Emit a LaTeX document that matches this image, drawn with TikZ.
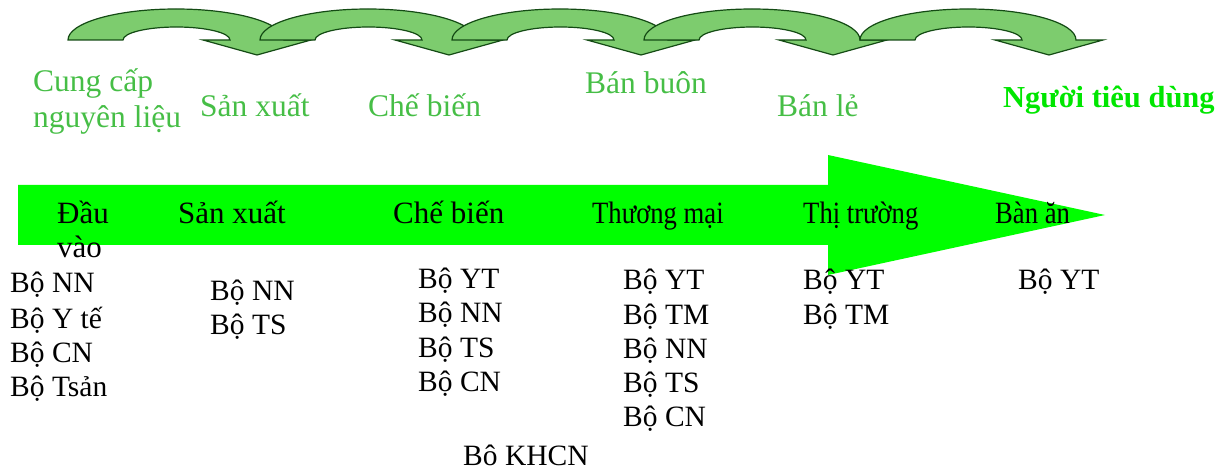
\documentclass[tikz,border=0pt]{standalone}
\usepackage{fontspec}
\setmainfont{Liberation Serif}
\newfontfamily\condfont[FakeStretch=0.86]{Liberation Serif}
\definecolor{arrowfill}{RGB}{125,204,110}
\definecolor{arrowline}{RGB}{20,75,20}
\definecolor{labelgreen}{RGB}{70,190,70}
\definecolor{brightgreen}{RGB}{0,230,0}
\definecolor{mainarrow}{RGB}{0,255,0}
\begin{document}
\begin{tikzpicture}[x=1pt,y=-1pt,
 curved/.style={fill=arrowfill,draw=arrowline,line width=1.2pt,line join=miter},
 glabel/.style={anchor=base west,inner sep=0pt,text=labelgreen,font=\fontsize{31.5}{36}\selectfont},
 alabel/.style={anchor=base west,inner sep=0pt,font=\fontsize{31}{35}\selectfont},
 clabel/.style={anchor=base west,inner sep=0pt,font=\condfont\fontsize{31}{35}\selectfont},
 blabel/.style={anchor=base west,inner sep=0pt,font=\fontsize{29.5}{34}\selectfont}]
\useasboundingbox (0,0) rectangle (1231,470);
% curved arrows
\foreach \s in {0,192,384,576,792} {
 \draw[curved,shift={(\s,0)}] (68,40) arc[start angle=180,end angle=360,x radius=108,y radius=31]
   -- (311,40) -- (257,55) -- (203,40) -- (230,40)
   arc[start angle=0,end angle=-180,x radius=53.5,y radius=13] -- cycle;
}
% main arrow
\fill[mainarrow] (18,185) -- (828,185) -- (828,155) -- (1105,215) -- (828,275) -- (828,245) -- (18,245) -- cycle;
% green labels
\node[glabel] (cung) at (33,92) {Cung cấp};
\node[glabel] (nguyen) at (33,128) {nguyên liệu};
\node[glabel] (gsx) at (200,117) {Sản xuất};
\node[glabel] (gcb) at (368,117) {Chế biến};
\node[glabel] (gbb) at (585,94) {Bán buôn};
\node[glabel] (gbl) at (777,117) {Bán lẻ};
\node[anchor=base west,inner sep=0pt,text=brightgreen,font=\bfseries\fontsize{30.5}{34}\selectfont] (gntd) at (1003,108) {Người tiêu dùng};
% arrow labels
\node[alabel] (dau) at (57,224) {Đầu};
\node[alabel] (vao) at (57,258) {vào};
\node[alabel] (asx) at (178,224) {Sản xuất};
\node[alabel] (acb) at (393,224) {Chế biến};
\node[clabel] (atm) at (592,224) {Thương mại};
\node[clabel] (att) at (803,224) {Thị trường};
\node[clabel] (aba) at (995,224) {Bàn ăn};
% column 1
\node[blabel] (c1a) at (10,293) {Bộ NN};
\node[blabel] (c1b) at (10,328) {Bộ Y tế};
\node[blabel] (c1c) at (10,362) {Bộ CN};
\node[blabel] (c1d) at (10,396) {Bộ Tsản};
% column 2
\node[blabel] (c2a) at (210,300) {Bộ NN};
\node[blabel] (c2b) at (210,334) {Bộ TS};
% column 3
\node[blabel] (c3a) at (418,289) {Bộ YT};
\node[blabel] (c3b) at (418,323) {Bộ NN};
\node[blabel] (c3c) at (418,357) {Bộ TS};
\node[blabel] (c3d) at (418,391) {Bộ CN};
% column 4
\node[blabel] (c4a) at (623,290) {Bộ YT};
\node[blabel] (c4b) at (623,324) {Bộ TM};
\node[blabel] (c4c) at (623,358) {Bộ NN};
\node[blabel] (c4d) at (623,392) {Bộ TS};
\node[blabel] (c4e) at (623,426) {Bộ CN};
% column 5
\node[blabel] (c5a) at (803,290) {Bộ YT};
\node[blabel] (c5b) at (803,324) {Bộ TM};
% column 6
\node[blabel] (c6a) at (1018,290) {Bộ YT};
% bottom
\node[blabel] (khcn) at (463,465) {Bô KHCN};
\end{tikzpicture}
\end{document}
